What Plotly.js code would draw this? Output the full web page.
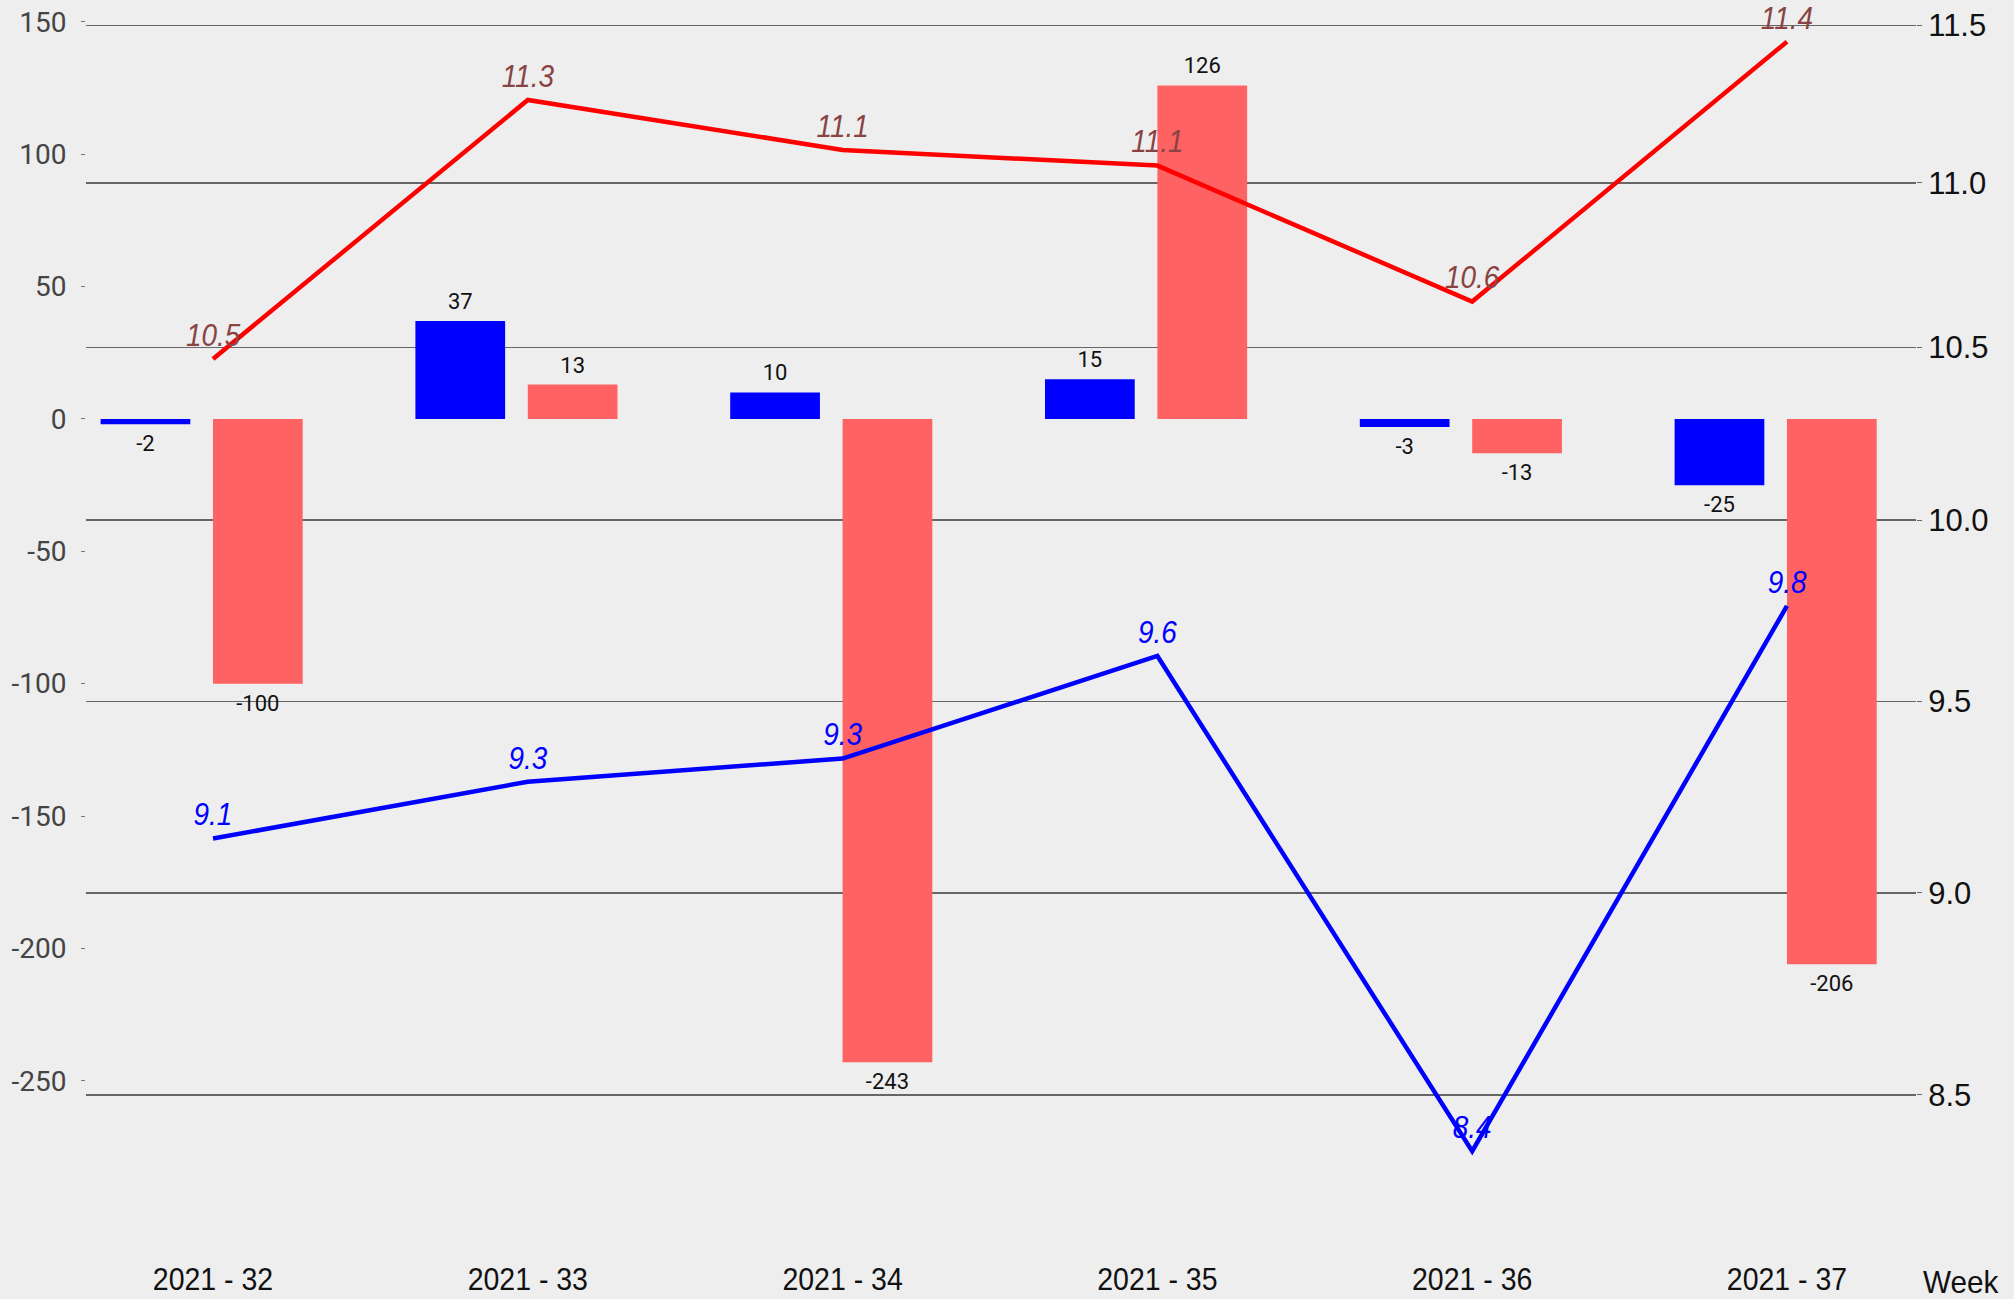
<!DOCTYPE html>
<html>
<head>
<meta charset="utf-8">
<script src="https://cdn.plot.ly/plotly-3.0.1.min.js"></script>
<style>
  html, body { margin: 0; padding: 0; background: #EEEEEE; }
  #chart { width: 2014px; height: 1299px; }
</style>
</head>
<body>
<div id="chart"></div>
<script>
// ---- data ----
const weeks = ['2021 - 32', '2021 - 33', '2021 - 34', '2021 - 35', '2021 - 36', '2021 - 37'];
const blueBars = [-2, 37, 10, 15, -3, -25];
const redBars = [-100, 13, -243, 126, -13, -206];
const redLine = [10.466, 11.261, 11.103, 11.054, 10.637, 11.448];
const blueLine = [9.139, 9.287, 9.348, 9.623, 8.366, 9.760];
const leftTickVals = [150, 100, 50, 0, -50, -100, -150, -200, -250];
const leftTickText = ['150', '100', '50', '0', '-50', '-100', '-150', '-200', '-250'];
const rightTickVals = [8.5, 9.0, 9.5, 10.0, 10.5, 11.0, 11.5];
const rightTickText = ['8.5', '9.0', '9.5', '10.0', '10.5', '11.0', '11.5'];
const xTitle = 'Week';

const sans = '"Liberation Sans", Arial, sans-serif';

const traces = [
  {
    type: 'bar', x: weeks, y: blueBars, yaxis: 'y',
    marker: { color: '#0000FF' },
    width: 0.285, offset: -0.357,
    text: blueBars.map(v => String(v)), textposition: 'outside',
    textfont: { family: 'Roboto, sans-serif', size: 22, color: '#111111' },
    cliponaxis: false, showlegend: false, hoverinfo: 'skip'
  },
  {
    type: 'bar', x: weeks, y: redBars, yaxis: 'y',
    marker: { color: '#FF6262' },
    width: 0.285, offset: 0,
    text: redBars.map(v => String(v)), textposition: 'outside',
    textfont: { family: 'Roboto, sans-serif', size: 22, color: '#111111' },
    cliponaxis: false, showlegend: false, hoverinfo: 'skip'
  },
  {
    type: 'scatter', mode: 'lines+markers+text', x: weeks, y: redLine, yaxis: 'y2',
    line: { color: '#FF0000', width: 4.5 },
    marker: { size: 7, color: 'rgba(0,0,0,0)' },
    text: redLine.map(v => v.toFixed(1)), textposition: 'top center',
    textfont: { family: sans, size: 31, color: '#8A4343', style: 'italic' },
    cliponaxis: false, showlegend: false, hoverinfo: 'skip'
  },
  {
    type: 'scatter', mode: 'lines+markers+text', x: weeks, y: blueLine, yaxis: 'y2',
    line: { color: '#0000FF', width: 4.5 },
    marker: { size: 7, color: 'rgba(0,0,0,0)' },
    text: blueLine.map(v => v.toFixed(1)), textposition: 'top center',
    textfont: { family: sans, size: 31, color: '#0000FF', style: 'italic' },
    cliponaxis: false, showlegend: false, hoverinfo: 'skip'
  }
];

const layout = {
  width: 2014, height: 1299,
  margin: { l: 86, r: 98, t: 10, b: 60 },
  paper_bgcolor: '#EEEEEE', plot_bgcolor: '#EEEEEE',
  barmode: 'overlay',
  showlegend: false,
  xaxis: {
    type: 'category',
    range: [-0.4034, 5.4098],
    showgrid: false, zeroline: false, showline: false, ticks: '',
    ticklabelstandoff: 18,
    tickfont: { family: sans, size: 32, color: '#111111' }
  },
  yaxis: {
    range: [-309.8, 154.5],
    tickmode: 'array', tickvals: leftTickVals, ticktext: leftTickText,
    showgrid: false, zeroline: false, showline: false,
    ticks: 'outside', ticklen: 4, tickwidth: 1, tickcolor: '#777777',
    ticklabelstandoff: 9,
    tickfont: { family: 'Roboto, sans-serif', size: 28, color: '#444444' }
  },
  yaxis2: {
    type: 'log', overlaying: 'y', side: 'right',
    range: [0.911733, 1.062618],
    tickmode: 'array', tickvals: rightTickVals, ticktext: rightTickText,
    showgrid: true, gridcolor: '#666666', gridwidth: 1.5,
    zeroline: false, showline: false,
    ticks: 'outside', ticklen: 5, tickwidth: 1, tickcolor: '#666666',
    tickfont: { family: sans, size: 31, color: '#111111' }
  },
  annotations: [
    {
      text: xTitle, xref: 'paper', yref: 'paper',
      x: 1.001, y: -0.035, xanchor: 'left', yanchor: 'middle',
      showarrow: false,
      font: { family: sans, size: 32, color: '#111111' }
    }
  ]
};

// narrow the condensed-looking texts horizontally (no narrow font installed)
function squeeze(selector, s) {
  document.querySelectorAll(selector).forEach(t => {
    const b = t.getBBox();
    const cx = b.x + b.width / 2;
    const tr = t.getAttribute('transform') || '';
    t.setAttribute('transform', tr + ' translate(' + cx + ',0) scale(' + s + ',1) translate(' + (-cx) + ',0)');
  });
}

// push outside bar labels a little further from the bar ends
function padBarText(px) {
  document.querySelectorAll('.barlayer .point').forEach(g => {
    const p = g.querySelector('path');
    const t = g.querySelector('text');
    if (!p || !t) return;
    const pr = p.getBoundingClientRect();
    const tr = t.getBoundingClientRect();
    const tc = tr.top + tr.height / 2;
    const dy = tc < pr.top + pr.height / 2 ? -px : px;
    const old = t.getAttribute('transform') || '';
    t.setAttribute('transform', 'translate(0,' + dy + ') ' + old);
  });
}

Plotly.newPlot('chart', traces, layout, { displayModeBar: false, staticPlot: true }).then(() => {
  squeeze('.xtick text', 0.89);
  squeeze('.annotation-text', 0.93);
  squeeze('.scatterlayer .textpoint text', 0.9);
  padBarText(4);
});
</script>
</body>
</html>
